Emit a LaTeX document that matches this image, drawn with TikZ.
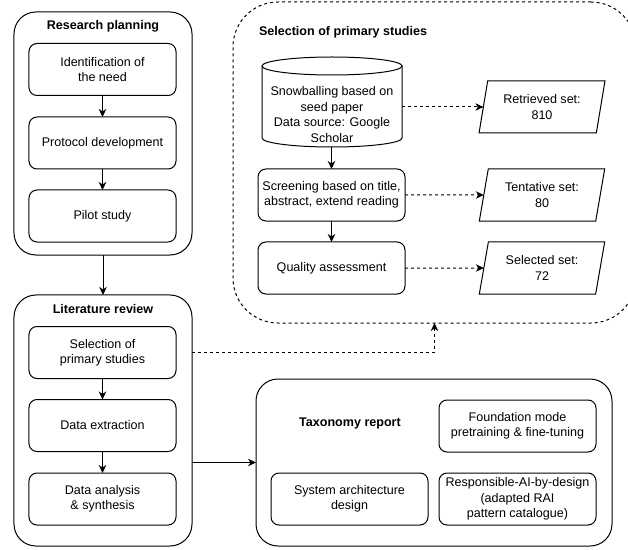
\documentclass[tikz,border=0pt]{standalone}
\usepackage{fontspec}
\setmainfont{Liberation Sans}
\usetikzlibrary{shapes.geometric,arrows.meta}
\begin{document}
\begin{tikzpicture}[x=1bp,y=-1bp,
  font=\fontsize{12.6}{15.5}\selectfont,
  every node/.style={inner sep=0pt, outer sep=0pt},
  container/.style={draw, line width=1bp, rounded corners=22bp},
  dcontainer/.style={draw, line width=1bp, rounded corners=45bp, dash pattern=on 3bp off 3bp},
  box/.style={draw, line width=1bp, rounded corners=8bp, align=center, minimum width=147bp, minimum height=52bp},
  tbox/.style={box, minimum width=157bp},
  para/.style={draw, line width=1bp, trapezium, trapezium left angle=76, trapezium right angle=104, trapezium stretches=true, minimum width=126bp, minimum height=52bp, align=center},
  title/.style={font=\fontsize{12.6}{15.5}\selectfont\bfseries},
  arr/.style={line width=1bp, -{Stealth[length=8bp,width=7.5bp,inset=2.5bp]}},
  darr/.style={arr, dash pattern=on 3bp off 3bp},
  line/.style={line width=1bp},
]
\useasboundingbox (0,0) rectangle (628,550);

% Research planning
\node[container, minimum width=178bp, minimum height=243bp] (rp) at (103,133.5) {};
\node[title] (rptitle) at (103,26) {Research planning};
\node[box] (need) at (102.5,69.5) {Identification of\\the need};
\node[box] (proto) at (102.5,143) {Protocol development};
\node[box] (pilot) at (102.5,216) {Pilot study};
\draw[arr] (need) -- (proto);
\draw[arr] (proto) -- (pilot);

% Literature review
\node[container, minimum width=178bp, minimum height=251bp] (lr) at (103,420.5) {};
\node[title] (lrtitle) at (103,309) {Literature review};
\node[box] (sel) at (102.5,352.5) {Selection of\\primary studies};
\node[box] (extr) at (102.5,425.5) {Data extraction};
\node[box] (anal) at (102.5,499) {Data analysis\\\& synthesis};
\draw[arr] (sel) -- (extr);
\draw[arr] (extr) -- (anal);
\draw[arr] (rp) -- (lr);

% Selection of primary studies (dashed)
\node[dcontainer, minimum width=403bp, minimum height=321bp] (sps) at (434.5,162.5) {};
\node[title, anchor=west] (spstitle) at (259,32) {Selection of primary studies};

\node[minimum width=140bp, minimum height=90bp] (snow) at (332,102) {};
\draw[line] (262,66) -- (262,138) arc[start angle=180,end angle=360,x radius=70bp,y radius=9bp] -- (402,66);
\draw[line] (332,66) ellipse [x radius=70bp, y radius=9bp];
\node[align=center] (snowtxt) at (332,114.5) {Snowballing based on\\seed paper\\Data source: Google\\Scholar};

\node[box] (screen) at (331.5,195) {Screening based on title,\\abstract, extend reading};
\node[box] (qual) at (331.5,268) {Quality assessment};
\draw[arr] (snow.south -| screen.north) -- (screen.north);
\draw[arr] (screen) -- (qual);

\node[para] (ret) at (542,107) {Retrieved set:\\810};
\node[para] (tent) at (542,195) {Tentative set:\\80};
\node[para] (selset) at (542,268) {Selected set:\\72};
\draw[darr] (snow.east |- ret.west) -- (ret.west);
\draw[darr] (screen.east) -- (tent.west);
\draw[darr] (qual.east) -- (selset.west);

\draw[darr] (lr.east |- sel.east) -| (sps.south);

% Taxonomy report
\node[container, minimum width=356bp, minimum height=167bp] (tax) at (434,462.5) {};
\node[title] (taxtitle) at (350,423) {Taxonomy report};
\node[tbox] (found) at (517.5,426) {Foundation mode\\pretraining \& fine-tuning};
\node[tbox] (sysarch) at (349.5,499) {System architecture\\design};
\node[tbox] (rai) at (517.5,499) {Responsible-AI-by-design\\(adapted RAI\\pattern catalogue)};
\draw[arr] (lr.east |- tax.west) -- (tax.west);
\end{tikzpicture}
\end{document}
